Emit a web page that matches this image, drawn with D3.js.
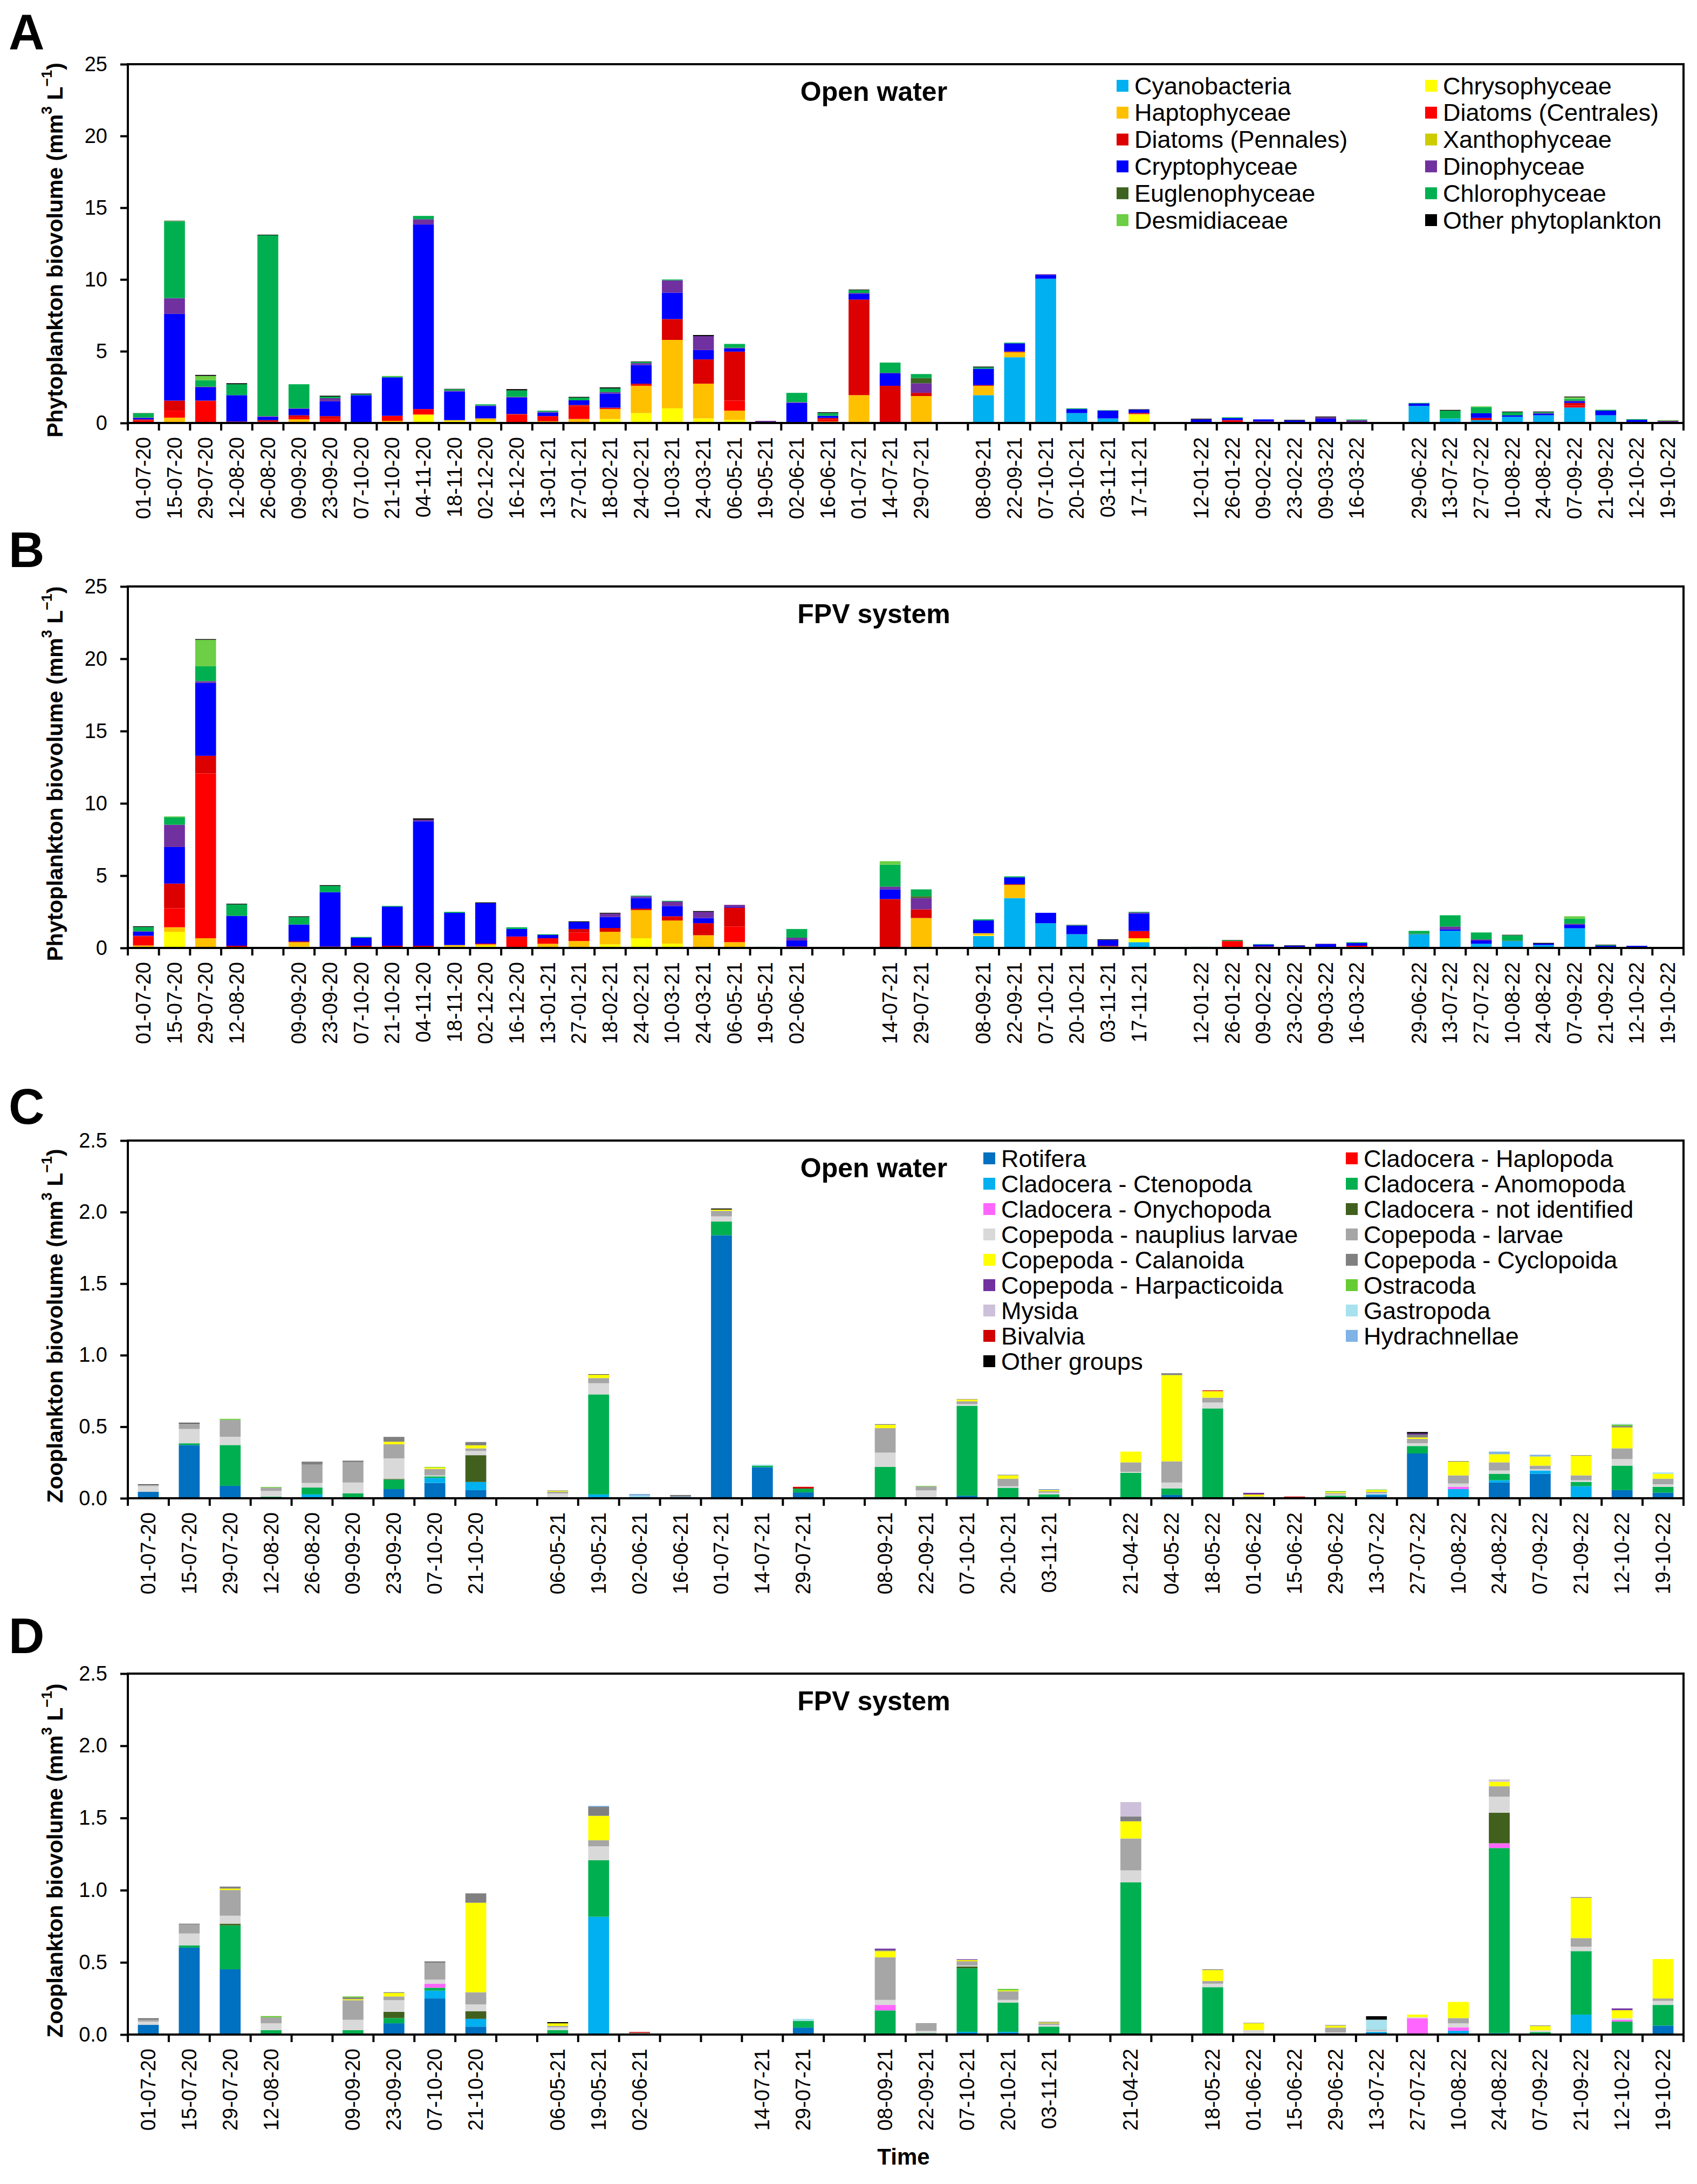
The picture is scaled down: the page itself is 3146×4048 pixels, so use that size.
<!DOCTYPE html>
<html>
<head>
<meta charset="utf-8">
<script src="https://cdn.jsdelivr.net/npm/d3@7"></script>
<style>
  body { margin: 0; background: #fff; }
  svg { display: block; }
  text { font-family: "Liberation Sans", Arial, sans-serif; fill: #000; }
</style>
</head>
<body>
<div id="chart"></div>
<script>
// series (stack order bottom -> top)
const phytoKeys = ["cya","chr","hap","cen","pen","xan","cry","din","eug","chl","des","oth"];
const phytoNames = ["Cyanobacteria","Chrysophyceae","Haptophyceae","Diatoms (Centrales)","Diatoms (Pennales)",
  "Xanthophyceae","Cryptophyceae","Dinophyceae","Euglenophyceae","Chlorophyceae","Desmidiaceae","Other phytoplankton"];
const phytoColors = ["#00b0f0","#ffff00","#ffc000","#ff0000","#dc0000","#cccc00","#0000ff","#7030a0","#3e6321","#00b050","#6ccf45","#000000"];

const zooKeys = ["rot","hap","cte","ano","ony","nid","nau","lar","cal","cyc","har","ost","mys","gas","biv","hyd","oth"];
const zooNames = ["Rotifera","Cladocera - Haplopoda","Cladocera - Ctenopoda","Cladocera - Anomopoda","Cladocera - Onychopoda",
  "Cladocera - not identified","Copepoda - nauplius larvae","Copepoda - larvae","Copepoda - Calanoida","Copepoda - Cyclopoida",
  "Copepoda - Harpacticoida","Ostracoda","Mysida","Gastropoda","Bivalvia","Hydrachnellae","Other groups"];
const zooColors = ["#0070c0","#ff0000","#00b0f0","#00b050","#ff66ff","#41601e","#d9d9d9","#a6a6a6","#ffff00","#808080",
  "#7030a0","#66cc33","#ccc0da","#a8e2ee","#d00000","#7fb3e6","#000000"];

// A - phytoplankton, open water ("" = empty slot)
const phytoOpen = [
  {d:"01-07-20",hap:.05,cen:.12,pen:.08,cry:.1,din:.03,chl:.3,oth:.01},
  {d:"15-07-20",hap:.37,cen:.49,pen:.7,cry:6.04,din:1.1,chl:5.35,des:.03,oth:.02},
  {d:"29-07-20",chr:.02,hap:.05,cen:1.44,pen:.05,cry:.92,din:.05,chl:.45,des:.3,oth:.07},
  {d:"12-08-20",cen:.05,pen:.05,cry:1.84,chl:.76,oth:.07},
  {d:"26-08-20",cen:.1,pen:.1,cry:.23,din:.05,chl:12.6,oth:.04},
  {d:"09-09-20",hap:.26,cen:.15,pen:.13,cry:.45,din:.03,chl:1.68},
  {d:"23-09-20",hap:.08,cen:.2,pen:.2,cry:1.03,din:.22,chl:.11,oth:.06},
  {d:"07-10-20",pen:.04,cry:1.9,chl:.06,oth:.05},
  {d:"21-10-20",hap:.15,cen:.35,cry:2.68,chl:.05,des:.05},
  {d:"04-11-20",chr:.54,hap:.06,cen:.37,cry:12.86,din:.37,chl:.23},
  {d:"18-11-20",chr:.15,hap:.05,cry:2.0,din:.05,chl:.1,oth:.03},
  {d:"02-12-20",chr:.15,hap:.17,cry:.87,din:.03,chl:.08},
  {d:"16-12-20",hap:.05,cen:.53,pen:.05,cry:1.14,din:.05,chl:.45,oth:.09},
  {d:"13-01-21",hap:.12,cen:.36,cry:.25,din:.05,chl:.08},
  {d:"27-01-21",hap:.28,cen:.91,pen:.06,cry:.33,chl:.19,oth:.05},
  {d:"18-02-21",chr:.28,hap:.69,cen:.05,pen:.05,cry:.98,din:.1,chl:.26,oth:.07},
  {d:"24-02-21",chr:.69,hap:1.9,cen:.05,pen:.1,cry:1.3,din:.13,chl:.09,oth:.03},
  {d:"10-03-21",chr:1.02,hap:4.77,pen:1.45,cry:1.84,din:.86,chl:.06},
  {d:"24-03-21",chr:.32,hap:2.42,pen:1.69,cry:.65,din:.97,oth:.08},
  {d:"06-05-21",chr:.22,hap:.64,cen:.7,pen:3.41,cry:.22,din:.05,chl:.27},
  {d:"19-05-21",pen:.05,din:.1},
  {d:"02-06-21",cry:1.4,din:.05,chl:.65},
  {d:"16-06-21",hap:.1,cen:.15,pen:.1,cry:.15,chl:.2,oth:.05},
  {d:"01-07-21",hap:1.94,pen:6.66,cry:.41,din:.05,chl:.2,oth:.04},
  {d:"14-07-21",pen:2.59,cry:.87,din:.03,chl:.72},
  {d:"29-07-21",hap:1.88,pen:.22,din:.67,eug:.36,chl:.28},
  {d:""},
  {d:"08-09-21",cya:1.94,hap:.65,pen:.05,cry:1.14,chl:.1,oth:.05},
  {d:"22-09-21",cya:4.58,hap:.35,pen:.05,cry:.57,chl:.05},
  {d:"07-10-21",cya:10.05,cry:.27,din:.05},
  {d:"20-10-21",cya:.69,cry:.28,chl:.05},
  {d:"03-11-21",cya:.32,cry:.54,chl:.03},
  {d:"17-11-21",chr:.58,hap:.05,pen:.07,cry:.23,oth:.03},
  {d:""},
  {d:"12-01-22",cry:.25,oth:.05},
  {d:"26-01-22",cen:.2,cry:.15,chl:.05},
  {d:"09-02-22",pen:.1,cry:.15},
  {d:"23-02-22",cry:.18,oth:.04},
  {d:"09-03-22",cry:.3,din:.1,oth:.05},
  {d:"16-03-22",pen:.05,din:.15,chl:.05},
  {d:""},
  {d:"29-06-22",cya:1.19,cry:.17,chl:.04},
  {d:"13-07-22",cya:.32,chl:.54,oth:.05},
  {d:"27-07-22",cya:.2,pen:.15,cry:.33,chl:.43,des:.05},
  {d:"10-08-22",cya:.43,cry:.1,chl:.23,oth:.04},
  {d:"24-08-22",cya:.54,cry:.1,din:.05,chl:.07,oth:.04},
  {d:"07-09-22",cya:1.08,cen:.15,pen:.17,cry:.1,din:.05,chl:.12,des:.12,oth:.05},
  {d:"21-09-22",cya:.54,cry:.32,chl:.06},
  {d:"12-10-22",cry:.22,chl:.05},
  {d:"19-10-22",pen:.05,din:.1,des:.05}
];

// B - phytoplankton, FPV system
const phytoFpv = [
  {d:"01-07-20",hap:.17,cen:.62,pen:.05,cry:.28,din:.03,chl:.3,oth:.05},
  {d:"15-07-20",chr:1.12,hap:.31,cen:1.31,pen:1.71,cry:2.53,din:1.54,chl:.53,des:.05},
  {d:"29-07-20",hap:.67,cen:11.4,pen:1.22,cry:5.04,din:.12,chl:1.03,des:1.83,oth:.05},
  {d:"12-08-20",pen:.15,cry:2.07,chl:.79,oth:.05},
  {d:""},
  {d:"09-09-20",chr:.1,hap:.3,pen:.05,cry:1.17,chl:.52,oth:.05},
  {d:"23-09-20",pen:.1,cry:3.76,chl:.43,oth:.05},
  {d:"07-10-20",pen:.15,cry:.56,chl:.05},
  {d:"21-10-20",pen:.15,cry:2.71,chl:.05},
  {d:"04-11-20",pen:.15,cry:8.61,din:.1,oth:.1},
  {d:"18-11-20",chr:.1,hap:.1,cry:2.23,chl:.07},
  {d:"02-12-20",chr:.15,hap:.1,cen:.05,cry:2.8,oth:.05},
  {d:"16-12-20",hap:.05,cen:.74,cry:.52,chl:.12},
  {d:"13-01-21",hap:.29,cen:.38,cry:.23,chl:.05},
  {d:"27-01-21",hap:.48,cen:.59,pen:.24,cry:.48,oth:.05},
  {d:"18-02-21",chr:.25,hap:.87,pen:.26,cry:.76,din:.24,oth:.05},
  {d:"24-02-21",chr:.67,hap:1.95,pen:.1,cry:.73,din:.12,chl:.05},
  {d:"10-03-21",chr:.3,hap:1.6,pen:.29,cry:.71,din:.31,chl:.05},
  {d:"24-03-21",hap:.88,pen:.83,cry:.36,din:.43,oth:.05},
  {d:"06-05-21",hap:.4,cen:1.08,pen:1.31,cry:.05,din:.14},
  {d:"19-05-21",chl:.08},
  {d:"02-06-21",pen:.1,cry:.42,din:.19,chl:.6},
  {d:""},
  {d:""},
  {d:"14-07-21",pen:3.38,cry:.67,din:.19,chl:1.52,des:.24},
  {d:"29-07-21",hap:2.07,pen:.6,din:.78,eug:.12,chl:.48},
  {d:""},
  {d:"08-09-21",cya:.83,chr:.05,hap:.14,cry:.88,chl:.08},
  {d:"22-09-21",cya:3.45,hap:.91,pen:.05,cry:.47,chl:.07},
  {d:"07-10-21",cya:1.71,cry:.72},
  {d:"20-10-21",cya:.95,cry:.6,chl:.03,oth:.02},
  {d:"03-11-21",cya:.1,pen:.05,cry:.4,oth:.05},
  {d:"17-11-21",cya:.4,chr:.27,cen:.45,pen:.05,cry:1.21,din:.07,chl:.05},
  {d:""},
  {d:"12-01-22",chl:.08},
  {d:"26-01-22",cen:.48,chl:.05,oth:.02},
  {d:"09-02-22",pen:.1,cry:.14,chl:.03},
  {d:"23-02-22",cry:.15,oth:.03},
  {d:"09-03-22",cry:.26,din:.03},
  {d:"16-03-22",cen:.15,cry:.2,chl:.05},
  {d:""},
  {d:"29-06-22",cya:.95,eug:.03,chl:.2},
  {d:"13-07-22",cya:1.19,cry:.1,din:.19,chl:.78},
  {d:"27-07-22",cya:.29,cry:.23,din:.07,chl:.48},
  {d:"10-08-22",cya:.48,eug:.03,chl:.37,oth:.03},
  {d:"24-08-22",cya:.2,cry:.1,oth:.05},
  {d:"07-09-22",cya:1.36,cry:.24,din:.07,chl:.35,des:.17},
  {d:"21-09-22",cry:.15,chl:.05,oth:.03},
  {d:"12-10-22",cya:.05,cry:.1},
  {d:"19-10-22",chl:.05}
];

// C - zooplankton, open water
const zooOpen = [
  {d:"01-07-20",rot:.045,nau:.04,lar:.01,oth:.003},
  {d:"15-07-20",rot:.372,ano:.012,nau:.1,lar:.034,cyc:.007,oth:.003},
  {d:"29-07-20",rot:.087,ano:.285,nau:.058,lar:.118,ost:.007},
  {d:"12-08-20",rot:.005,ano:.006,nau:.04,lar:.023,ost:.005},
  {d:"26-08-20",cte:.027,ano:.048,nau:.032,lar:.128,cyc:.021},
  {d:"09-09-20",ano:.034,nau:.076,lar:.141,cyc:.012},
  {d:"23-09-20",rot:.064,ano:.066,nid:.005,nau:.144,lar:.098,cal:.018,cyc:.034},
  {d:"07-10-20",rot:.107,cte:.035,ano:.011,nau:.007,lar:.045,cal:.01,ost:.004},
  {d:"21-10-20",rot:.057,cte:.057,nid:.187,nau:.03,lar:.018,cal:.021,cyc:.023},
  {d:""},
  {d:"06-05-21",rot:.003,nau:.03,lar:.012,cal:.006,cyc:.004},
  {d:"19-05-21",cte:.027,ano:.699,nau:.078,lar:.036,cal:.023,oth:.003},
  {d:"02-06-21",rot:.005,cte:.005,gas:.008,hyd:.012},
  {d:"16-06-21",rot:.01,lar:.005,cyc:.005,oth:.002},
  {d:"01-07-21",rot:1.838,ano:.096,nau:.036,lar:.039,cal:.009,oth:.007},
  {d:"14-07-21",rot:.217,ano:.011,gas:.007},
  {d:"29-07-21",rot:.041,ano:.027,biv:.012},
  {d:""},
  {d:"08-09-21",ano:.219,nau:.1,lar:.171,cal:.023,cyc:.005},
  {d:"22-09-21",cte:.005,nau:.05,lar:.027,ost:.004},
  {d:"07-10-21",rot:.018,ano:.628,nau:.012,lar:.02,cal:.012,cyc:.003},
  {d:"20-10-21",ano:.073,nau:.011,lar:.053,cal:.023,cyc:.004},
  {d:"03-11-21",rot:.005,ano:.022,nau:.012,lar:.01,cal:.008,cyc:.003,hyd:.004},
  {d:""},
  {d:"21-04-22",ano:.178,nau:.007,lar:.066,cal:.075},
  {d:"04-05-22",rot:.023,ano:.045,nau:.042,lar:.148,cal:.603,cyc:.013},
  {d:"18-05-22",ano:.628,nau:.041,lar:.034,cal:.046,biv:.005},
  {d:"01-06-22",rot:.003,nau:.004,lar:.006,cal:.013,har:.012},
  {d:"15-06-22",biv:.012},
  {d:"29-06-22",rot:.003,ano:.015,nau:.01,lar:.008,cal:.008,ost:.006},
  {d:"13-07-22",rot:.022,cte:.005,nau:.008,lar:.01,cal:.012,ost:.004},
  {d:"27-07-22",rot:.313,ano:.052,nau:.02,lar:.03,cal:.01,cyc:.02,har:.008,oth:.01},
  {d:"10-08-22",cte:.064,ony:.016,nau:.023,lar:.057,cal:.096,cyc:.004},
  {d:"24-08-22",rot:.11,cte:.016,ano:.045,nau:.023,lar:.057,cal:.057,hyd:.018},
  {d:"07-09-22",rot:.171,cte:.023,nau:.01,lar:.024,cal:.064,hyd:.012},
  {d:"21-09-22",cte:.084,ano:.03,nau:.012,lar:.034,cal:.137,cyc:.004},
  {d:"12-10-22",rot:.057,ano:.171,nau:.046,lar:.075,cal:.146,cyc:.01,ost:.01,gas:.005},
  {d:"19-10-22",rot:.039,ano:.041,nau:.018,lar:.039,cal:.034,gas:.01}
];

// D - zooplankton, FPV system
const zooFpv = [
  {d:"01-07-20",rot:.067,nau:.023,lar:.017,oth:.004},
  {d:"15-07-20",rot:.602,ano:.016,nau:.082,lar:.061,cyc:.007},
  {d:"29-07-20",rot:.452,ano:.304,nid:.012,nau:.055,lar:.178,cal:.01,cyc:.014},
  {d:"12-08-20",rot:.005,ano:.026,nau:.047,lar:.041,ost:.009},
  {d:""},
  {d:"09-09-20",ano:.031,nau:.071,lar:.136,cal:.007,cyc:.012,ost:.007},
  {d:"23-09-20",rot:.078,ano:.036,nid:.043,nau:.081,lar:.026,cal:.024,cyc:.005},
  {d:"07-10-20",rot:.25,cte:.054,ano:.02,ony:.028,nau:.029,lar:.114,cyc:.012},
  {d:"21-10-20",rot:.055,cte:.054,nid:.053,nau:.047,lar:.084,cal:.62,cyc:.065},
  {d:""},
  {d:"06-05-21",rot:.005,ano:.026,nau:.019,lar:.01,cal:.018,oth:.008},
  {d:"19-05-21",cte:.816,ano:.392,nau:.096,lar:.042,cal:.169,cyc:.062,hyd:.007},
  {d:"02-06-21",ano:.008,lar:.004,biv:.006},
  {d:""},
  {d:""},
  {d:"14-07-21"},
  {d:"29-07-21",rot:.048,ano:.047,gas:.014},
  {d:""},
  {d:"08-09-21",rot:.004,ano:.163,ony:.038,nau:.035,lar:.295,cal:.043,cyc:.008,har:.009},
  {d:"22-09-21",rot:.004,ano:.006,nau:.016,lar:.048,cyc:.004},
  {d:"07-10-21",rot:.011,cte:.008,ano:.44,nid:.012,nau:.007,lar:.03,cal:.008,har:.005},
  {d:"20-10-21",rot:.012,cte:.007,ano:.202,nau:.019,lar:.06,cal:.006,ost:.01},
  {d:"03-11-21",ano:.055,nau:.012,lar:.011,cal:.005,cyc:.005},
  {d:""},
  {d:"21-04-22",ano:1.054,nau:.083,lar:.221,cal:.119,cyc:.033,mys:.1},
  {d:""},
  {d:"18-05-22",ano:.328,nau:.024,lar:.019,cal:.076,cyc:.005},
  {d:"01-06-22",rot:.004,nau:.027,cal:.047,cyc:.003},
  {d:"15-06-22",rot:.005},
  {d:"29-06-22",rot:.005,nau:.01,lar:.033,cal:.014,cyc:.004},
  {d:"13-07-22",rot:.012,cte:.007,nau:.008,lar:.006,gas:.07,oth:.024},
  {d:"27-07-22",rot:.003,ony:.11,nau:.008,cal:.017},
  {d:"10-08-22",rot:.005,cte:.021,ony:.024,nau:.028,lar:.036,cal:.112},
  {d:"24-08-22",cte:.01,ano:1.282,ony:.033,nid:.212,nau:.111,lar:.072,cal:.031,mys:.016},
  {d:"07-09-22",rot:.005,ano:.012,nau:.012,cal:.03,cyc:.004},
  {d:"21-09-22",rot:.005,cte:.133,ano:.44,nau:.031,lar:.059,cal:.279,cyc:.005},
  {d:"12-10-22",rot:.008,ano:.082,ony:.012,nau:.012,cal:.055,har:.012},
  {d:"19-10-22",rot:.062,ano:.143,nau:.028,lar:.017,cal:.273}
];

const W = 3146, H = 4048;
const X0 = 237, X1 = 3121;

const svg = d3.select('#chart').append('svg')
  .attr('width', W)
  .attr('height', H);

function yTitle(g, cx, cy, word) {
  let t = g.append('text')
    .attr('transform', `translate(${cx},${cy}) rotate(-90)`)
    .attr('text-anchor', 'middle')
    .attr('dominant-baseline', 'central')
    .attr('font-weight', 'bold')
    .style('font-size', '41px');
  t.append('tspan').text(word + ' biovolume (mm');
  t.append('tspan').text('3').attr('baseline-shift', 'super').style('font-size', '27px');
  t.append('tspan').text(' L');
  t.append('tspan').text('\u22121').attr('baseline-shift', 'super').style('font-size', '27px');
  t.append('tspan').text(')');
}

function drawPanel(p) {
  let g = svg.append('g');
  let n = p.data.length;

  let x = d3.scaleBand()
    .domain(d3.range(n))
    .range([X0, X1])
    .paddingInner(p.pad)
    .paddingOuter(p.pad / 2);
  let edge = d3.scaleLinear().domain([0, n]).range([X0, X1]);
  let y = d3.scaleLinear().domain([0, p.max]).range([p.bottom, p.top]);

  let series = d3.stack()
    .keys(p.keys)
    .value((d, k) => d[k] || 0)(p.data);

  g.selectAll('g.layer')
    .data(series)
    .join('g')
    .attr('class', 'layer')
    .attr('fill', (d, i) => p.colors[i])
    .selectAll('rect')
    .data(d => d.map((v, i) => ({v, i})).filter(o => o.v[1] - o.v[0] > 0))
    .join('rect')
    .attr('x', o => x(o.i))
    .attr('y', o => y(o.v[1]))
    .attr('width', x.bandwidth())
    .attr('height', o => y(o.v[0]) - y(o.v[1]));

  // y axis
  let yAxis = d3.axisLeft(y)
    .tickValues(d3.range(0, p.max + p.step / 2, p.step))
    .tickSize(14)
    .tickPadding(24)
    .tickFormat(p.fmt);
  let ya = g.append('g')
    .attr('transform', `translate(${X0},0)`)
    .call(yAxis);
  ya.select('.domain').remove();
  ya.selectAll('line').attr('stroke', '#000').attr('stroke-width', 4);
  ya.selectAll('text')
    .style('font-size', '38px')
    .style('font-family', '"Liberation Sans", Arial, sans-serif')
    .attr('fill', '#000');

  // category ticks between slots
  g.selectAll('line.xt')
    .data(d3.range(n + 1))
    .join('line')
    .attr('class', 'xt')
    .attr('x1', i => edge(i)).attr('x2', i => edge(i))
    .attr('y1', p.bottom).attr('y2', p.bottom + 14)
    .attr('stroke', '#000')
    .attr('stroke-width', 4);

  g.selectAll('text.xl')
    .data(p.data.map((d, i) => ({d: d.d, i})).filter(o => o.d))
    .join('text')
    .attr('class', 'xl')
    .attr('transform', o => `translate(${x(o.i) + x.bandwidth() / 2},${p.bottom + 26}) rotate(-90)`)
    .attr('text-anchor', 'end')
    .attr('dominant-baseline', 'central')
    .style('font-size', '38px')
    .text(o => o.d);

  // frame
  g.append('rect')
    .attr('x', X0).attr('y', p.top)
    .attr('width', X1 - X0).attr('height', p.bottom - p.top)
    .attr('fill', 'none')
    .attr('stroke', '#000')
    .attr('stroke-width', 4);

  g.append('text')
    .attr('x', 16).attr('y', p.letterY)
    .attr('font-weight', 'bold')
    .style('font-size', '92px')
    .text(p.letter);

  g.append('text')
    .attr('x', 1620).attr('y', p.top + 68)
    .attr('text-anchor', 'middle')
    .attr('font-weight', 'bold')
    .style('font-size', '50px')
    .text(p.title);

  yTitle(g, 102, (p.top + p.bottom) / 2 + 12, p.word);

  if (p.legend) {
    let L = p.legend;
    let items = g.selectAll('g.leg')
      .data(p.names)
      .join('g')
      .attr('class', 'leg')
      .attr('transform', (d, i) => `translate(${L.cols[i % 2]},${L.y0 + Math.floor(i / 2) * L.dy})`);
    items.append('rect')
      .attr('x', 0).attr('y', -11)
      .attr('width', 22).attr('height', 22)
      .attr('fill', (d, i) => p.colors[i]);
    items.append('text')
      .attr('x', 33).attr('y', 0)
      .attr('dominant-baseline', 'central')
      .style('font-size', '45px')
      .text(d => d);
  }
}

const f0 = d3.format('d');
const f1 = d3.format('.1f');

drawPanel({letter: 'A', letterY: 91, top: 119, bottom: 784, max: 25, step: 5, fmt: f0, pad: 0.33,
  data: phytoOpen, keys: phytoKeys, colors: phytoColors, names: phytoNames,
  title: 'Open water', word: 'Phytoplankton',
  legend: {cols: [2070, 2642], y0: 159, dy: 49.8}});

drawPanel({letter: 'B', letterY: 1051, top: 1087, bottom: 1757, max: 25, step: 5, fmt: f0, pad: 0.33,
  data: phytoFpv, keys: phytoKeys, colors: phytoColors, names: phytoNames,
  title: 'FPV system', word: 'Phytoplankton'});

drawPanel({letter: 'C', letterY: 2083, top: 2114, bottom: 2777, max: 2.5, step: 0.5, fmt: f1, pad: 0.49,
  data: zooOpen, keys: zooKeys, colors: zooColors, names: zooNames,
  title: 'Open water', word: 'Zooplankton',
  legend: {cols: [1823, 2495], y0: 2147, dy: 47}});

drawPanel({letter: 'D', letterY: 3064, top: 3102, bottom: 3771, max: 2.5, step: 0.5, fmt: f1, pad: 0.49,
  data: zooFpv, keys: zooKeys, colors: zooColors, names: zooNames,
  title: 'FPV system', word: 'Zooplankton'});

svg.append('text')
  .attr('x', 1675).attr('y', 4012)
  .attr('text-anchor', 'middle')
  .attr('font-weight', 'bold')
  .style('font-size', '42px')
  .text('Time');
</script>
</body>
</html>
